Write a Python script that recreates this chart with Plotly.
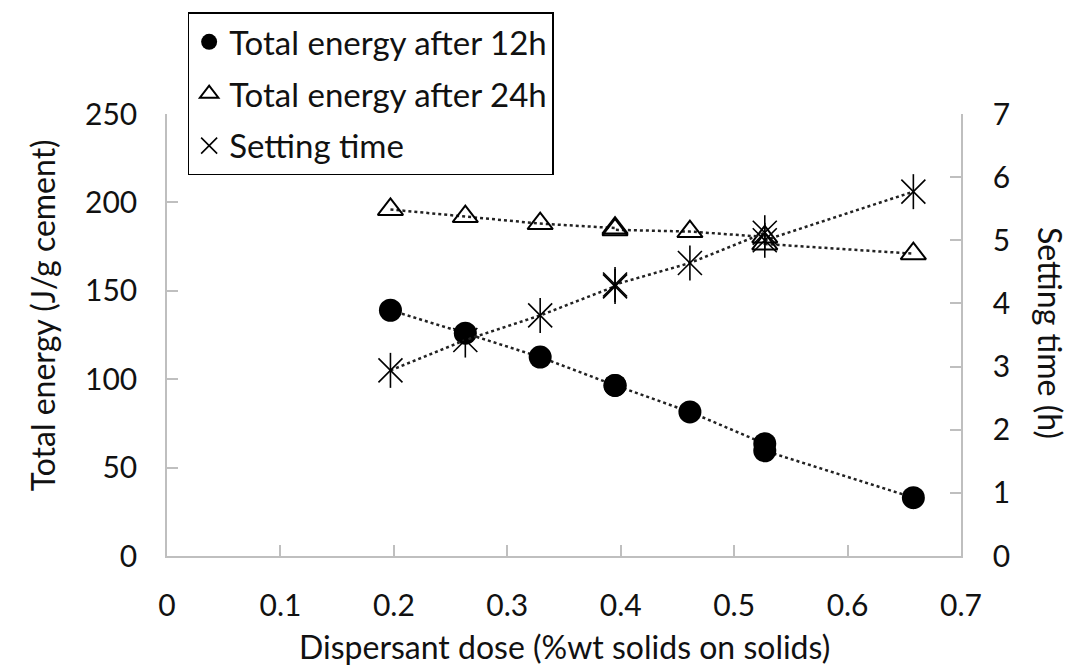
import plotly.graph_objects as go

# Dispersant dose (%wt solids on solids)
dose = [0.197, 0.263, 0.329, 0.395, 0.395, 0.461, 0.527, 0.527, 0.658]
# Total energy (J/g cement)
energy_12h = [139, 126, 112.5, 96.5, 96.5, 81.5, 63.5, 59.5, 33]
energy_24h = [196, 192, 188, 185.5, 184.5, 183.5, 180.5, 176.5, 171]
# Setting time (h)
setting_time = [2.94, 3.42, 3.81, 4.27, 4.3, 4.64, 5.12, 5.0, 5.77]

x_ticks = [0, 0.1, 0.2, 0.3, 0.4, 0.5, 0.6, 0.7]
left_ticks = [0, 50, 100, 150, 200, 250]
right_ticks = [0, 1, 2, 3, 4, 5, 6, 7]

FONT = "Lato"
AXIS_GREY = "#bfbfbf"
INK = "#111111"
dotted = dict(color="#222222", width=2.5, dash="dot")

circle = dict(symbol="circle", color="black")
triangle = dict(symbol="triangle-up-open", color="black",
                line=dict(width=2, color="black"))
star_x = dict(symbol="x-thin-open", color="black",
              line=dict(width=1.6, color="black"))
star_v = dict(symbol="line-ns-open", color="black",
              line=dict(width=1.6, color="black"))

fig = go.Figure()

# data series
fig.add_trace(go.Scatter(x=dose, y=energy_12h, mode="lines+markers",
                         line=dotted, showlegend=False,
                         marker=dict(size=23, **circle)))
fig.add_trace(go.Scatter(x=dose, y=energy_24h, mode="lines+markers",
                         line=dotted, showlegend=False,
                         marker=dict(size=22, **triangle)))
fig.add_trace(go.Scatter(x=dose, y=setting_time, mode="lines+markers",
                         line=dotted, yaxis="y2", showlegend=False,
                         marker=dict(size=24, **star_x)))
fig.add_trace(go.Scatter(x=dose, y=setting_time, mode="markers",
                         yaxis="y2", showlegend=False, hoverinfo="skip",
                         marker=dict(size=25, **star_v)))

# legend entries (marker only)
for name, mk, grp in [("Total energy after 12h", circle, "a"),
                      ("Total energy after 24h", triangle, "b"),
                      ("Setting time", star_x, "c")]:
    fig.add_trace(go.Scatter(x=[None], y=[None], mode="markers", name=name,
                             legendgroup=grp, marker=dict(size=16, **mk)))

axis_common = dict(
    showgrid=False, zeroline=False, showline=True, linecolor=AXIS_GREY,
    linewidth=1.5, ticks="inside", ticklen=11, tickwidth=1.5,
    tickcolor=AXIS_GREY, tickfont=dict(family=FONT, size=30, color=INK),
)

fig.update_layout(
    width=1082, height=669,
    margin=dict(l=167, r=121, t=108, b=113),
    paper_bgcolor="white", plot_bgcolor="white",
    xaxis=dict(range=[0, 0.7], tickvals=x_ticks, ticklabelstandoff=22,
               **axis_common),
    yaxis=dict(range=[0, 250], tickvals=left_ticks, ticklabelstandoff=22,
               **axis_common),
    yaxis2=dict(range=[0, 7], tickvals=right_ticks, overlaying="y",
                side="right", ticklabelstandoff=24, **axis_common),
    legend=dict(
        x=0.026, y=1.23, xanchor="left", yanchor="top",
        bordercolor="black", borderwidth=1.5, bgcolor="white",
        font=dict(family=FONT, size=33, color=INK),
        traceorder="grouped", tracegroupgap=6, itemwidth=30,
    ),
    showlegend=True,
    annotations=[
        dict(text="Dispersant dose (%wt solids on solids)", xref="paper",
             yref="paper", x=0.5, y=-0.205, xanchor="center",
             yanchor="middle", showarrow=False,
             font=dict(family=FONT, size=32, color=INK)),
        dict(text="Total energy (J/g cement)", xref="paper", yref="paper",
             x=(42 - 167) / 794, y=(556 - 312) / 448, textangle=-90,
             xanchor="center", yanchor="middle", showarrow=False,
             font=dict(family=FONT, size=32, color=INK)),
        dict(text="Setting time (h)", xref="paper", yref="paper",
             x=(1051 - 167) / 794, y=(556 - 330) / 448, textangle=90,
             xanchor="center", yanchor="middle", showarrow=False,
             font=dict(family=FONT, size=32, color=INK)),
    ],
)

fig.write_html("out.html")
